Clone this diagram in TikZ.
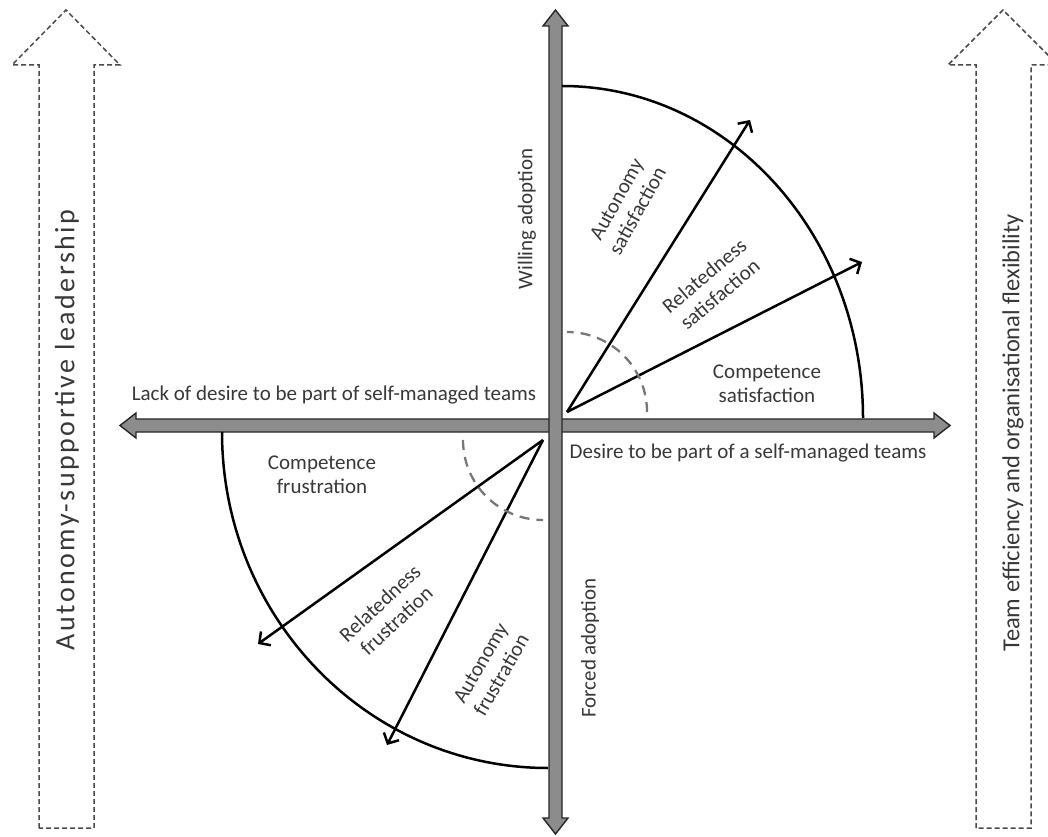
\documentclass[tikz,border=0pt]{standalone}
\usepackage{fontspec}
\setmainfont{Carlito}
\usetikzlibrary{arrows.meta}
\definecolor{txtgray}{HTML}{383838}
\definecolor{axgray}{HTML}{8C8C8C}
\definecolor{axdark}{HTML}{262626}
\definecolor{dashgray}{HTML}{4A4A4A}
\definecolor{midgray}{HTML}{777777}
\begin{document}
\begin{tikzpicture}[x=1pt,y=1pt,
  lbl/.style={text=txtgray, font=\fontsize{21}{24}\selectfont, align=center, inner sep=0pt},
  side/.style={text=txtgray, font=\fontsize{24.5}{28}\selectfont, inner sep=0pt, rotate=90},
  axisbar/.style={fill=axgray, draw=axdark, line width=1.4pt, line join=miter},
  dasharrow/.style={draw=dashgray, line width=1.5pt, dash pattern=on 5pt off 3pt},
  need/.style={line width=2.5pt, -{Straight Barb[length=8pt,width=17pt,line width=2.5pt]}},
  rim/.style={line width=2.5pt},
  anglemark/.style={draw=midgray, line width=2.3pt, dash pattern=on 10pt off 7pt}]
\clip (0,0) rectangle (1048,836);
\useasboundingbox (0,0) rectangle (1048,836);
% outline arrows at the sides
\draw[dasharrow] (39,8) -- (39,771) -- (12,771) -- (66,826) -- (120,771) -- (94,771) -- (94,8) -- cycle;
\draw[dasharrow] (976,8) -- (976,771) -- (948,771) -- (1003,826) -- (1058,771) -- (1031,771) -- (1031,8) -- cycle;
% axes
\draw[axisbar] (136,404) -- (934,404) -- (934,398) -- (950,410.5) -- (934,423) -- (934,417) -- (136,417) -- (136,423) -- (120,410.5) -- (136,398) -- cycle;
\draw[axisbar] (549,18) -- (549,810) -- (543,810) -- (555.5,826) -- (568,810) -- (562,810) -- (562,18) -- (568,18) -- (555.5,2) -- (543,18) -- cycle;
% rims
\draw[rim] (863,418) arc[start angle=0,end angle=90,x radius=301,y radius=332];
\draw[rim] (222,404) arc[start angle=180,end angle=270,x radius=326,y radius=336];
% need arrows
\coordinate (o1) at (567,424);
\coordinate (o2) at (543,396);
\coordinate (t1) at (750,716);
\coordinate (t2) at (862,574);
\coordinate (t3) at (258,192);
\coordinate (t4) at (387,91);
\draw[need] (o1) -- (t1);
\draw[need] (o1) -- (t2);
\draw[need] (o2) -- (t3);
\draw[need] (o2) -- (t4);
\draw[anglemark] ([shift={(80,0)}]o1) arc[start angle=0,end angle=90,radius=80];
\draw[anglemark] ([shift={(-80,0)}]o2) arc[start angle=180,end angle=270,radius=80];
% labels
\node[lbl] (lack) at (334,441) {Lack of desire to be part of self-managed teams};
\node[lbl] (desire) at (748,383) {Desire to be part of a self-managed teams};
\node[lbl,rotate=90] (willing) at (527,617) {Willing adoption};
\node[lbl,rotate=90] (forced) at (590,188) {Forced adoption};
\node[side] (lead) at (67,406) {\fontsize{28}{32}\selectfont\addfontfeature{LetterSpace=9}Autonomy-supportive leadership};
\node[side] (team) at (1013,403) {Team efficiency and organisational flexibility};
\node[lbl] (cs) at (767,452) {Competence\\satisfaction};
\node[lbl] (cf) at (322,361) {Competence\\frustration};
\node[lbl,rotate=61] (as) at (627,631) {Autonomy\\satisfaction};
\node[lbl,rotate=40] (rs) at (712,551) {Relatedness\\satisfaction};
\node[lbl,rotate=43] (rf) at (388,224) {Relatedness\\frustration};
\node[lbl,rotate=60] (af) at (491,167) {Autonomy\\frustration};
\end{tikzpicture}
\end{document}
